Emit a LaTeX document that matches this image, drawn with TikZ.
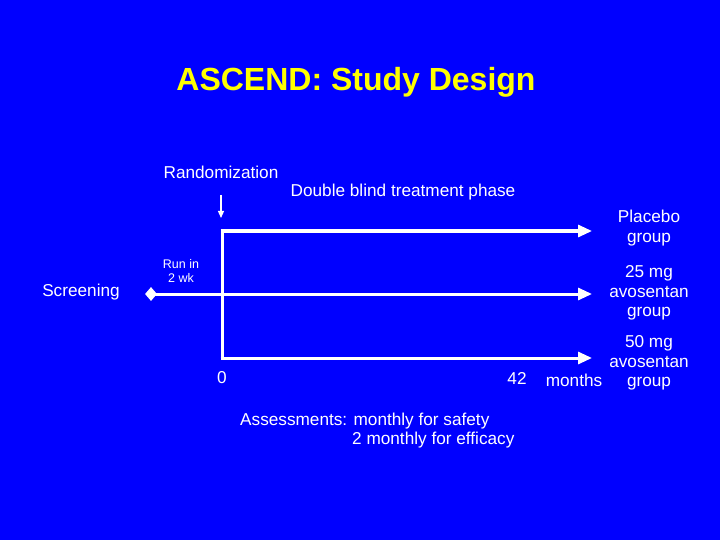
\documentclass[tikz,border=0pt]{standalone}
\usepackage{fontspec}
\setmainfont{Liberation Sans}
\usetikzlibrary{arrows.meta,shapes.geometric}
\definecolor{bg}{RGB}{0,0,255}
\definecolor{ttl}{RGB}{255,255,0}
\begin{document}
\begin{tikzpicture}[x=1pt,y=-1pt,
  lab/.style={text=white,font=\fontsize{17.2}{19.5}\selectfont,inner sep=0pt,align=center},
  small/.style={text=white,font=\fontsize{12.5}{14}\selectfont,inner sep=0pt,align=center},
  arm/.style={draw=white,line width=3pt,-{Triangle[length=14pt,width=12pt]}}]
\fill[bg] (0,0) rectangle (720,540);
\useasboundingbox (0,0) rectangle (720,540);
\node[text=ttl,font=\bfseries\fontsize{32}{35}\selectfont,inner sep=0pt] (title) at (356,82) {ASCEND: Study Design};
\node[lab] (rand) at (221,172) {Randomization};
\node[lab] (dbl) at (403,192) {Double blind treatment phase};
\coordinate (ra) at (221,195); \coordinate (rb) at (221,218);
\draw[white,line width=1.2pt,-{Triangle[length=7pt,width=6pt]}] (ra) -- (rb);
\coordinate (vt) at (222,230); \coordinate (vb) at (222,358);
\draw[white,line width=3pt] (vt) -- (vb);
\coordinate (e1) at (592,231); \coordinate (e2) at (592,294); \coordinate (e3) at (592,358);
\coordinate (s1) at (220.5,231); \coordinate (s3) at (220.5,358);
\node[diamond,fill=white,inner sep=0pt,minimum width=12pt,minimum height=14pt] (dia) at (151,294) {};
\draw[arm] (s1) -- (e1);
\draw[arm] (dia.center) -- (e2);
\draw[arm] (s3) -- (e3);
\node[lab] (p) at (649,228) {Placebo\\group};
\node[lab] (m25) at (649,293) {25 mg\\avosentan\\group};
\node[lab] (m50) at (649,363) {50 mg\\avosentan\\group};
\node[small] (run) at (181,271) {Run in\\2 wk};
\node[lab] (scr) at (81,292) {Screening};
\node[lab] (z) at (222,378) {0};
\node[lab] (ft) at (517,378) {42};
\node[lab] (mo) at (574,380) {months};
\node[lab,anchor=west] (as1) at (240,421) {Assessments: monthly for safety};
\node[lab,anchor=west] (as2) at (352,440) {2 monthly for efficacy};
\end{tikzpicture}
\end{document}
